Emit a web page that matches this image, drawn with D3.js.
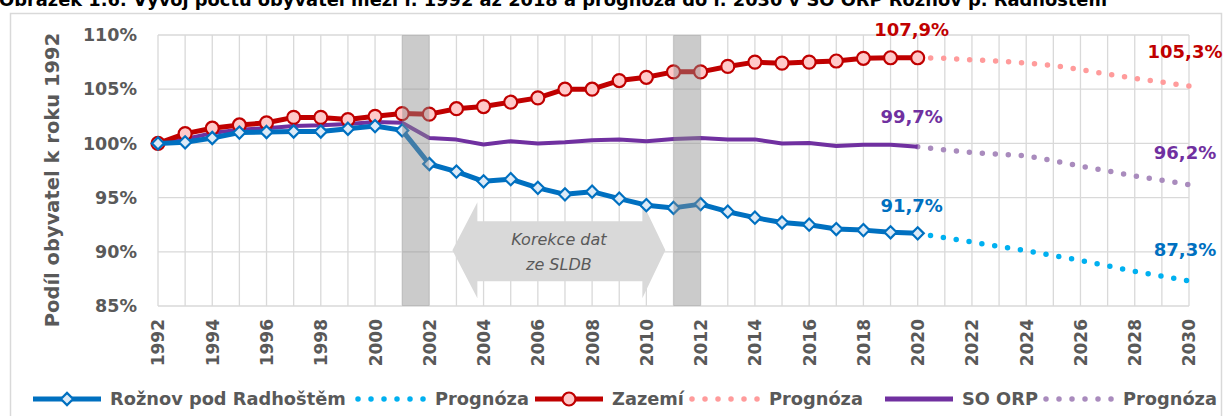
<!DOCTYPE html>
<html>
<head>
<meta charset="utf-8">
<script src="https://cdn.jsdelivr.net/npm/d3@7"></script>
<style>
  body { margin: 0; background: #fff; }
  svg text { font-family: "DejaVu Sans", sans-serif; }
</style>
</head>
<body>
<div id="chart"></div>
<script>
// Years (categories)
const yearsHist = [1992, 1993, 1994, 1995, 1996, 1997, 1998, 1999, 2000, 2001, 2002, 2003, 2004, 2005,
    2006, 2007, 2008, 2009, 2010, 2011, 2012, 2013, 2014, 2015, 2016, 2017, 2018, 2019, 2020];
const yearsProg = [2020, 2021, 2022, 2023, 2024, 2025, 2026, 2027, 2028, 2029, 2030];
const tickYears = [1992, 1994, 1996, 1998, 2000, 2002, 2004, 2006, 2008, 2010, 2012, 2014, 2016,
    2018, 2020, 2022, 2024, 2026, 2028, 2030];
const tickPct = [85, 90, 95, 100, 105, 110];

// Share of 1992 population (%)
const roznov = [100.0, 100.1, 100.5, 101.0, 101.05, 101.1, 101.1, 101.35, 101.6, 101.2, 98.1, 97.4, 96.5, 96.7,
    95.9, 95.3, 95.55, 94.9, 94.3, 94.05, 94.4, 93.7, 93.15, 92.7, 92.5, 92.1, 92.0, 91.8, 91.7];
const roznovProg = [91.7, 91.3, 90.9, 90.5, 90.1, 89.65, 89.2, 88.7, 88.2, 87.75, 87.3];

const zazemi = [100.0, 100.9, 101.4, 101.7, 101.9, 102.4, 102.4, 102.2, 102.5, 102.75, 102.7, 103.2, 103.4, 103.8,
    104.2, 105.0, 105.0, 105.8, 106.1, 106.6, 106.6, 107.1, 107.5, 107.4, 107.5, 107.6, 107.85, 107.9, 107.9];
const zazemiProg = [107.9, 107.85, 107.7, 107.6, 107.4, 107.2, 106.8, 106.4, 106.0, 105.65, 105.3];

const soOrp = [100.0, 100.4, 100.95, 101.27, 101.4, 101.6, 101.67, 101.8, 101.97, 101.9, 100.5, 100.35, 99.9, 100.2,
    100.0, 100.1, 100.28, 100.37, 100.2, 100.4, 100.5, 100.37, 100.37, 100.0, 100.03, 99.75, 99.88, 99.88, 99.7];
const soOrpProg = [99.7, 99.4, 99.15, 99.0, 98.85, 98.4, 97.9, 97.45, 97.0, 96.6, 96.2];

// Census correction bands (SLDB) and arrow span
const censusBands = [[2001, 2002], [2011, 2012]];
const arrowSpan = [2002.85, 2010.7];

const series = [
    {name: "Rožnov pod Radhoštěm", values: roznov, prog: roznovProg, color: "#0070c0", progColor: "#00b0f0",
        marker: "diamond", fill: "#dceaf7", width: 5},
    {name: "Zazemí", values: zazemi, prog: zazemiProg, color: "#c00000", progColor: "#ff9b9b",
        marker: "circle", fill: "#ffc9c9", width: 5},
    {name: "SO ORP", values: soOrp, prog: soOrpProg, color: "#7030a0", progColor: "#a98bbd",
        marker: null, width: 4}
];

const W = 1224, H = 416;
const svg = d3.select("#chart").append("svg")
    .attr("width", W)
    .attr("height", H);

// Title (cut at the top as in the source)
svg.append("text")
    .attr("x", -1).attr("y", 6)
    .attr("textLength", 1108).attr("lengthAdjust", "spacingAndGlyphs")
    .style("font-size", "17px").style("font-weight", "bold").attr("fill", "#000")
    .text("Obrázek 1.6: Vývoj počtu obyvatel mezi r. 1992 až 2018 a prognóza do r. 2030 v SO ORP  Rožnov p. Radhoštěm");

// Outer frame
svg.append("rect")
    .attr("x", 10.5).attr("y", 13.5).attr("width", 1211).attr("height", 430)
    .attr("fill", "none").attr("stroke", "#d9d9d9").attr("stroke-width", 1.5);

const x = d3.scaleLinear().domain([1992, 2030]).range([158, 1189]);
const y = d3.scaleLinear().domain([85, 110]).range([306, 35]);

// Grid
const allYears = yearsHist.concat(yearsProg.slice(1));
svg.append("g").selectAll("line").data(allYears).join("line")
    .attr("x1", d => x(d)).attr("x2", d => x(d))
    .attr("y1", y(110)).attr("y2", y(85))
    .attr("stroke", "#d9d9d9").attr("stroke-width", 1.3);
svg.append("g").selectAll("line").data(tickPct).join("line")
    .attr("x1", x(1992)).attr("x2", x(2030))
    .attr("y1", d => y(d)).attr("y2", d => y(d))
    .attr("stroke", "#d9d9d9").attr("stroke-width", 1.3);

// Y axis
const yAxis = svg.append("g")
    .attr("transform", `translate(${x(1992)},0)`)
    .call(d3.axisLeft(y).tickValues(tickPct).tickSize(0).tickPadding(21).tickFormat(d => d + "%"));
yAxis.select(".domain").remove();
yAxis.selectAll("text")
    .style("font-size", "17.5px").style("font-weight", "bold")
    .style("font-family", "'DejaVu Sans', sans-serif")
    .attr("fill", "#595959");

// X axis
const xAxis = svg.append("g")
    .attr("transform", `translate(0,${y(85)})`)
    .call(d3.axisBottom(x).tickValues(tickYears).tickSize(0).tickFormat(d3.format("d")));
xAxis.select(".domain").remove();
xAxis.selectAll("text")
    .attr("transform", "rotate(-90)")
    .attr("x", -13).attr("y", 0).attr("dy", "0.35em")
    .style("text-anchor", "end")
    .style("font-size", "17px").style("font-weight", "bold")
    .style("font-family", "'DejaVu Sans', sans-serif")
    .attr("fill", "#595959");

// Y axis title
svg.append("text")
    .attr("transform", `translate(59,180) rotate(-90)`)
    .attr("text-anchor", "middle")
    .style("font-size", "19.5px").style("font-weight", "bold")
    .attr("fill", "#595959")
    .text("Podíl obyvatel k roku 1992");

// Correction arrow
const ay = y(90.15);
const arrowPath = d3.path();
const ax0 = x(arrowSpan[0]), ax1 = x(arrowSpan[1]);
arrowPath.moveTo(ax0, ay);
arrowPath.lineTo(ax0 + 25, ay - 48);
arrowPath.lineTo(ax0 + 25, ay - 29);
arrowPath.lineTo(ax1 - 23, ay - 29);
arrowPath.lineTo(ax1 - 23, ay - 48);
arrowPath.lineTo(ax1, ay);
arrowPath.lineTo(ax1 - 23, ay + 48);
arrowPath.lineTo(ax1 - 23, ay + 31);
arrowPath.lineTo(ax0 + 25, ay + 31);
arrowPath.lineTo(ax0 + 25, ay + 48);
arrowPath.closePath();
svg.append("path").attr("d", arrowPath.toString()).attr("fill", "#d9d9d9");

const noteX = (ax0 + ax1) / 2;
svg.append("text").attr("x", noteX).attr("y", ay - 5)
    .attr("text-anchor", "middle").style("font-size", "16px").style("font-style", "italic")
    .attr("fill", "#595959").text("Korekce dat");
svg.append("text").attr("x", noteX).attr("y", ay + 20)
    .attr("text-anchor", "middle").style("font-size", "16px").style("font-style", "italic")
    .attr("fill", "#595959").text("ze SLDB");

// Lines
const line = d3.line().x(d => x(d[0])).y(d => y(d[1]));
const diamond = d3.symbol().type(d3.symbolDiamond2).size(95);

series.forEach(s => {
    const prog = yearsProg.map((yr, i) => [yr, s.prog[i]]);
    svg.append("path").datum(prog)
        .attr("d", line).attr("fill", "none")
        .attr("stroke", s.progColor).attr("stroke-width", 5.5)
        .attr("stroke-linecap", "round").attr("stroke-dasharray", "0 13");
});
series.slice().reverse().forEach(s => {
    const pts = yearsHist.map((yr, i) => [yr, s.values[i]]);
    svg.append("path").datum(pts)
        .attr("d", line).attr("fill", "none")
        .attr("stroke", s.color).attr("stroke-width", s.width)
        .attr("stroke-linejoin", "round");
    if (s.marker === "circle") {
        svg.append("g").selectAll("circle").data(pts).join("circle")
            .attr("cx", d => x(d[0])).attr("cy", d => y(d[1])).attr("r", 6.5)
            .attr("fill", s.fill).attr("stroke", s.color).attr("stroke-width", 2.2);
    } else if (s.marker === "diamond") {
        svg.append("g").selectAll("path").data(pts).join("path")
            .attr("d", diamond)
            .attr("transform", d => `translate(${x(d[0])},${y(d[1])})`)
            .attr("fill", s.fill).attr("stroke", s.color).attr("stroke-width", 2.2);
    }
});

// Census bands on top (semi-transparent)
svg.append("g").selectAll("rect").data(censusBands).join("rect")
    .attr("x", d => x(d[0])).attr("width", d => x(d[1]) - x(d[0]))
    .attr("y", y(110)).attr("height", y(85) - y(110))
    .attr("fill", "#8c8c8c").attr("opacity", 0.45);

// Value labels
const fmt = v => d3.format(".1f")(v).replace(".", ",") + "%";
const labelOffsets = [
    {dyLast: -21, dyProg: -25},
    {dyLast: -22, dyProg: -28},
    {dyLast: -24, dyProg: -26}
];
series.forEach((s, i) => {
    const last = s.values[s.values.length - 1];
    const end = s.prog[s.prog.length - 1];
    svg.append("text").attr("x", x(2020) - 6).attr("y", y(last) + labelOffsets[i].dyLast)
        .attr("text-anchor", "middle").style("font-size", "18px").style("font-weight", "bold")
        .attr("fill", s.color).text(fmt(last));
    svg.append("text").attr("x", x(2030) - 4).attr("y", y(end) + labelOffsets[i].dyProg)
        .attr("text-anchor", "middle").style("font-size", "18px").style("font-weight", "bold")
        .attr("fill", s.color).text(fmt(end));
});

// Legend
const legendItems = [
    {label: "Rožnov pod Radhoštěm", color: "#0070c0", marker: "diamond", fill: "#dceaf7", dotted: false, x: 33},
    {label: "Prognóza", color: "#00b0f0", dotted: true, x: 358},
    {label: "Zazemí", color: "#c00000", marker: "circle", fill: "#ffc9c9", dotted: false, x: 535},
    {label: "Prognóza", color: "#ff9b9b", dotted: true, x: 692},
    {label: "SO ORP", color: "#7030a0", dotted: false, x: 885},
    {label: "Prognóza", color: "#a98bbd", dotted: true, x: 1046}
];
const ly = 399;
const legend = svg.append("g");
legendItems.forEach(it => {
    const g = legend.append("g");
    g.append("line").attr("x1", it.x).attr("x2", it.x + 68).attr("y1", ly).attr("y2", ly)
        .attr("stroke", it.color).attr("stroke-width", it.dotted ? 5.5 : 5)
        .attr("stroke-linecap", it.dotted ? "round" : "butt")
        .attr("stroke-dasharray", it.dotted ? "0 13" : null);
    if (it.marker === "circle") {
        g.append("circle").attr("cx", it.x + 34).attr("cy", ly).attr("r", 6.5)
            .attr("fill", it.fill).attr("stroke", it.color).attr("stroke-width", 2.2);
    } else if (it.marker === "diamond") {
        g.append("path").attr("d", diamond).attr("transform", `translate(${it.x + 34},${ly})`)
            .attr("fill", it.fill).attr("stroke", it.color).attr("stroke-width", 2.2);
    }
    g.append("text").attr("x", it.x + 77).attr("y", ly).attr("dy", "0.35em")
        .style("font-size", "17.8px").style("font-weight", "bold").attr("fill", "#595959")
        .text(it.label);
});
</script>
</body>
</html>
